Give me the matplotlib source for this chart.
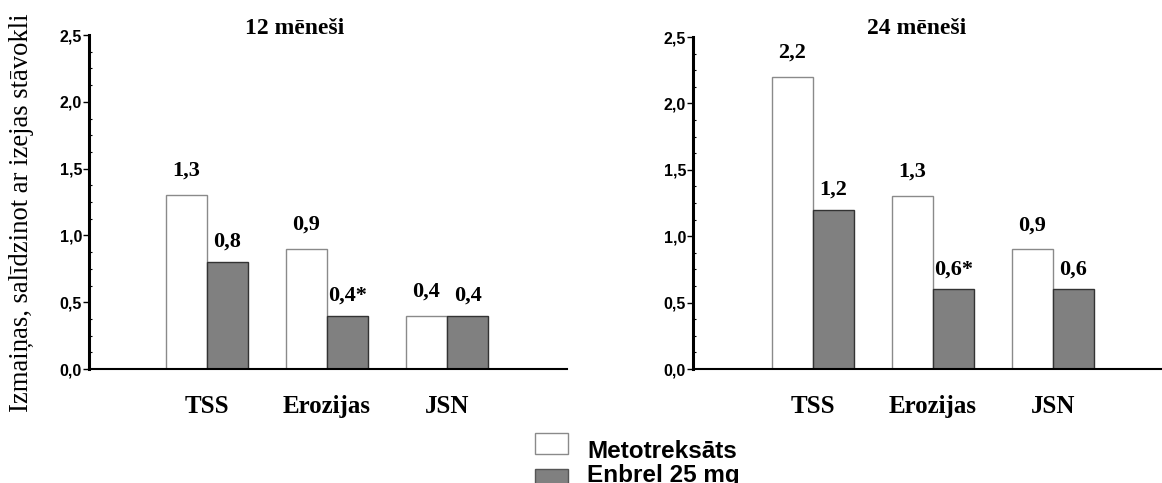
import matplotlib
matplotlib.use('Agg')
import matplotlib.pyplot as plt
from matplotlib.patches import Rectangle
from matplotlib.ticker import MultipleLocator

# dati
kategorijas = ['TSS', 'Erozijas', 'JSN']
mtx_12 = [1.3, 0.9, 0.4]
enb_12 = [0.8, 0.4, 0.4]
zvaig_12 = ['', '*', '']
mtx_24 = [2.2, 1.3, 0.9]
enb_24 = [1.2, 0.6, 0.6]
zvaig_24 = ['', '*', '']
y_ticks = [0.0, 0.5, 1.0, 1.5, 2.0, 2.5]
nosaukumi = ['12 mēneši', '24 mēneši']
legendas = ['Metotreksāts', 'Enbrel 25 mg']

SERIF = 'Liberation Serif'
SANS = 'Liberation Sans'

W, H = 1162, 483
fig = plt.figure(figsize=(W / 100, H / 100), dpi=100)


def fx(px):
    return px / W


def fy(px):
    return 1 - px / H


def zimet(ax, mtx, enb, zvaig):
    x = [1, 2, 3]
    w = 0.342
    ax.bar([i - w / 2 for i in x], mtx, width=w, color='white', edgecolor='#8a8a8a', linewidth=1.0)
    ax.bar([i + w / 2 for i in x], enb, width=w, color='#808080', edgecolor='#333333', linewidth=1.0)
    for i, v in zip(x, mtx):
        ax.annotate(f'{v:.1f}'.replace('.', ','), (i - w / 2, v), xytext=(0, 17.5),
                    textcoords='offset points', ha='center', va='center',
                    fontfamily=SERIF, fontweight='bold', fontsize=16)
    for i, v, z in zip(x, enb, zvaig):
        ax.annotate(f'{v:.1f}'.replace('.', ',') + z, (i + w / 2, v), xytext=(0, 14.5),
                    textcoords='offset points', ha='center', va='center',
                    fontfamily=SERIF, fontweight='bold', fontsize=16)
    ax.set_ylim(0, 2.5)
    ax.set_yticks(y_ticks)
    ax.set_yticklabels([f'{t:.1f}'.replace('.', ',') for t in y_ticks],
                       fontfamily=SANS, fontweight='bold', fontsize=11.5)
    ax.yaxis.set_minor_locator(MultipleLocator(0.125))
    ax.tick_params(axis='y', which='major', direction='out', length=4, width=1, pad=1)
    ax.tick_params(axis='y', which='minor', direction='in', length=2.5, width=0.8)
    ax.set_xticks(x)
    ax.set_xticklabels(kategorijas, fontfamily=SERIF, fontweight='bold', fontsize=18)
    ax.tick_params(axis='x', length=0, pad=19)
    ax.spines['top'].set_visible(False)
    ax.spines['right'].set_visible(False)
    ax.spines['left'].set_linewidth(2.2)
    ax.spines['bottom'].set_linewidth(1.5)
    ax.set_facecolor('none')


ax1 = fig.add_axes([fx(89), fy(369), fx(478), 334 / H])
zimet(ax1, mtx_12, enb_12, zvaig_12)
ax1.set_xlim(0.017, 4.0)

ax2 = fig.add_axes([fx(693), fy(369), fx(480), 332 / H])
zimet(ax2, mtx_24, enb_24, zvaig_24)
ax2.set_xlim(0, 4.0)

# virsraksti
fig.text(fx(295), fy(28), nosaukumi[0], ha='center', va='center',
         fontfamily=SERIF, fontweight='bold', fontsize=17)
fig.text(fx(917), fy(28), nosaukumi[1], ha='center', va='center',
         fontfamily=SERIF, fontweight='bold', fontsize=17)

# y ass nosaukums
fig.text(fx(22), fy(213), 'Izmaiņas, salīdzinot ar izejas stāvokli', rotation=90,
         ha='center', va='center', fontfamily=SERIF, fontsize=19.2)

# leģenda
fig.add_artist(Rectangle((fx(535), fy(454)), fx(33), 21 / H, transform=fig.transFigure,
                         facecolor='white', edgecolor='#8a8a8a', linewidth=1.0))
fig.add_artist(Rectangle((fx(535), fy(490)), fx(33), 21 / H, transform=fig.transFigure,
                         facecolor='#808080', edgecolor='#555555', linewidth=1.0))
fig.text(fx(587), fy(458), legendas[0], ha='left', va='baseline',
         fontfamily=SANS, fontweight='bold', fontsize=17.5)
fig.text(fx(587), fy(482), legendas[1], ha='left', va='baseline',
         fontfamily=SANS, fontweight='bold', fontsize=17.5)

fig.savefig('out.png', dpi=100)
